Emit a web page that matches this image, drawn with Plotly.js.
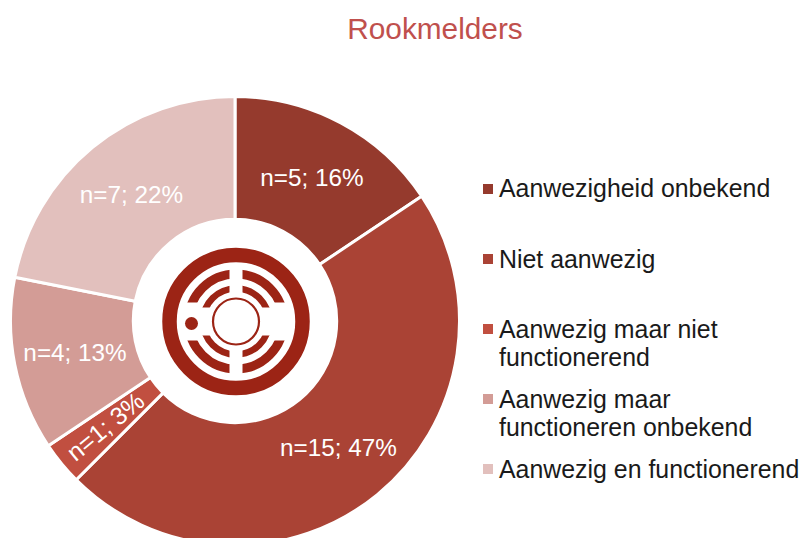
<!DOCTYPE html>
<html>
<head>
<meta charset="utf-8">
<script src="https://cdn.plot.ly/plotly-3.0.1.min.js"></script>
<style>html,body{margin:0;padding:0;background:#fff;overflow:hidden;width:802px;height:538px}#c{width:802px;height:560px}</style>
</head>
<body>
<div id="c"></div>
<script>
const chartTitle = 'Rookmelders';
const categories = ['Aanwezigheid onbekend','Niet aanwezig','Aanwezig maar niet functionerend','Aanwezig maar functioneren onbekend','Aanwezig en functionerend'];
const counts = [5,15,1,4,7];
const percents = [16,47,3,13,22];
const colors = ['#953A2D','#AA4335','#C14F40','#D39C96','#E2C0BD'];
const legendLines = [['Aanwezigheid onbekend'],['Niet aanwezig'],['Aanwezig maar niet','functionerend'],['Aanwezig maar','functioneren onbekend'],['Aanwezig en functionerend']];
const legendLineY = [[188],[259],[329,357],[399,427],[469]];
const legendSquareY = [189,259,329,399,469];

const W = 802, H = 560;
const FONT = '"Liberation Sans", Arial, sans-serif';
const px = x => x / W, py = y => 1 - y / H;

const icon = `<svg xmlns="http://www.w3.org/2000/svg" width="160" height="160" viewBox="-80 -80 160 160">
<circle r="47.5" fill="none" stroke="#9C2415" stroke-width="9"/>
<rect x="-62" y="-19" width="124" height="38" fill="#fff"/>
<circle r="33" fill="none" stroke="#9C2415" stroke-width="6.5"/>
<rect x="-42" y="-14" width="84" height="28" fill="#fff"/>
<rect x="-6.5" y="-62" width="13" height="124" fill="#fff"/>
<circle r="23" fill="#fff" stroke="#9C2415" stroke-width="2.2"/>
<circle r="66.5" fill="none" stroke="#9C2415" stroke-width="14.5"/>
<circle cx="-44.5" cy="2" r="6.5" fill="#9C2415"/>
</svg>`;

const shapes = legendSquareY.map((y,i)=>({
  type:'rect', xref:'paper', yref:'paper',
  x0:px(483), x1:px(493), y0:py(y-5), y1:py(y+5),
  fillcolor:colors[i], line:{width:0}
}));
const annotations = [];
legendLines.forEach((lines,i)=>lines.forEach((t,j)=>annotations.push({
  xref:'paper', yref:'paper', x:px(497), y:py(legendLineY[i][j]),
  xanchor:'left', yanchor:'middle', align:'left', showarrow:false,
  text:t, font:{family:FONT,size:24.9,color:'#1a1a1a'}
})));

/* The thin slice's label runs along its radius, at the size of the other labels */
const total = counts.reduce((a,b)=>a+b,0);
const thin = 2;
const before = counts.slice(0,thin).reduce((a,b)=>a+b,0);
const mid = (before + counts[thin]/2) / total * 2*Math.PI;
const cx = 235, cy = 321, labelR = 167;
annotations.push({
  xref:'paper', yref:'paper',
  x:px(cx + labelR*Math.sin(mid)), y:py(cy - labelR*Math.cos(mid)),
  xanchor:'center', yanchor:'middle', showarrow:false,
  textangle: Math.atan2(Math.cos(mid), -Math.sin(mid))*180/Math.PI,
  text:`n=${counts[thin]}; ${percents[thin]}%`,
  font:{family:FONT,size:24.8,color:'#ffffff'}
});

Plotly.newPlot('c',[{
  type:'pie',
  labels:categories,
  values:counts,
  text:counts.map((n,i)=> i===thin ? '' : `n=${n}; ${percents[i]}%`),
  textinfo:'text',
  textposition:'inside',
  insidetextorientation:'horizontal',
  insidetextfont:{family:FONT,size:24.3,color:'#ffffff'},
  sort:false,
  direction:'clockwise',
  rotation:0,
  hole:0.453,
  marker:{colors:colors,line:{color:'#ffffff',width:3}},
  domain:{x:[px(10.5),px(459.5)],y:[py(545.5),py(96.5)]},
  hoverinfo:'label+value+percent'
}],{
  width:W,height:H,
  margin:{l:0,r:0,t:0,b:0},
  paper_bgcolor:'#fff',
  showlegend:false,
  title:{text:chartTitle,x:px(435),xanchor:'center',y:py(29),yanchor:'middle',font:{family:FONT,size:29.8,color:'#C0504D'}},
  shapes:shapes,
  annotations:annotations,
  images:[{source:'data:image/svg+xml;base64,'+btoa(icon),xref:'paper',yref:'paper',
    x:px(236-80),y:py(321.5-80),sizex:160/W,sizey:160/H,xanchor:'left',yanchor:'top',sizing:'stretch',layer:'above'}]
},{displayModeBar:false,staticPlot:true});
</script>
</body>
</html>
